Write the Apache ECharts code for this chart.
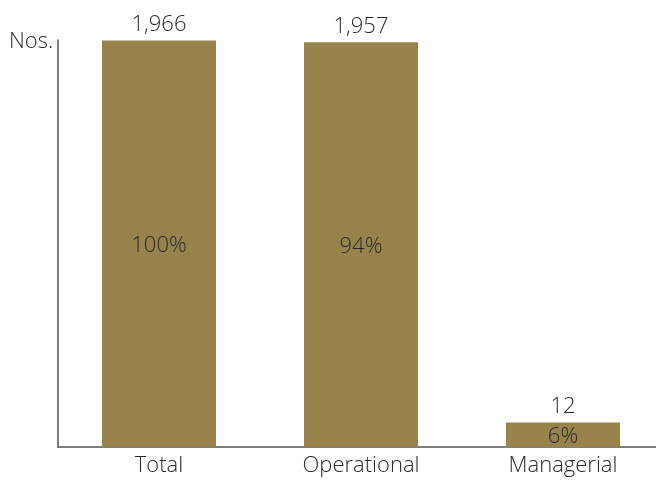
<!DOCTYPE html>
<html><head><meta charset="utf-8">
<script src="https://cdn.jsdelivr.net/npm/echarts@6/dist/echarts.min.js"></script>
<style>html,body{margin:0;padding:0;background:#fff;overflow:hidden}#c{width:664px;height:484px}</style>
</head><body><div id="c"></div>
<script>
var categories = ['Total', 'Operational', 'Managerial'];
var counts = [1966, 1957, 12];
var shares = ['100%', '94%', '6%'];
// bar lengths as drawn in the picture (Managerial bar is drawn taller than its count)
var barLengths = [1966, 1957, 118];
var yUnit = 'Nos.';

var chart = echarts.init(document.getElementById('c'), null, {renderer: 'canvas'});
var font = '"Open Sans", "Noto Sans", sans-serif';
var fs = 22;
chart.setOption({
  backgroundColor: '#ffffff',
  animation: false,
  grid: {left: 58, right: 0, top: 40, bottom: 37},
  graphic: [{type: 'text', left: 9, top: 31, style: {text: yUnit, font: '300 ' + fs + 'px ' + font, fill: '#2b2b2b'}}],
  xAxis: {
    type: 'category', data: categories,
    axisLine: {lineStyle: {color: '#555', width: 1.5}},
    axisTick: {show: false},
    axisLabel: {color: '#2b2b2b', fontSize: fs, fontWeight: 300, fontFamily: font, margin: 8}
  },
  yAxis: {
    type: 'value', min: 0, max: 1968,
    axisLine: {show: true, lineStyle: {color: '#555', width: 1.5}},
    axisTick: {show: false}, axisLabel: {show: false}, splitLine: {show: false}
  },
  series: [{
    type: 'bar', data: barLengths, barWidth: 114,
    itemStyle: {color: '#98834d'},
    label: {show: true, position: 'inside', offset: [0, 2], color: '#2b2b2b', fontSize: fs, fontWeight: 300, fontFamily: font,
      formatter: function (p) { return shares[p.dataIndex]; }}
  }, {
    type: 'bar', data: barLengths, barWidth: 114, barGap: '-100%',
    itemStyle: {color: 'rgba(0,0,0,0)'},
    label: {show: true, position: 'top', distance: 5, color: '#2b2b2b', fontSize: fs, fontWeight: 300, fontFamily: font,
      formatter: function (p) { return counts[p.dataIndex].toLocaleString('en-US'); }}
  }]
});
</script></body></html>
